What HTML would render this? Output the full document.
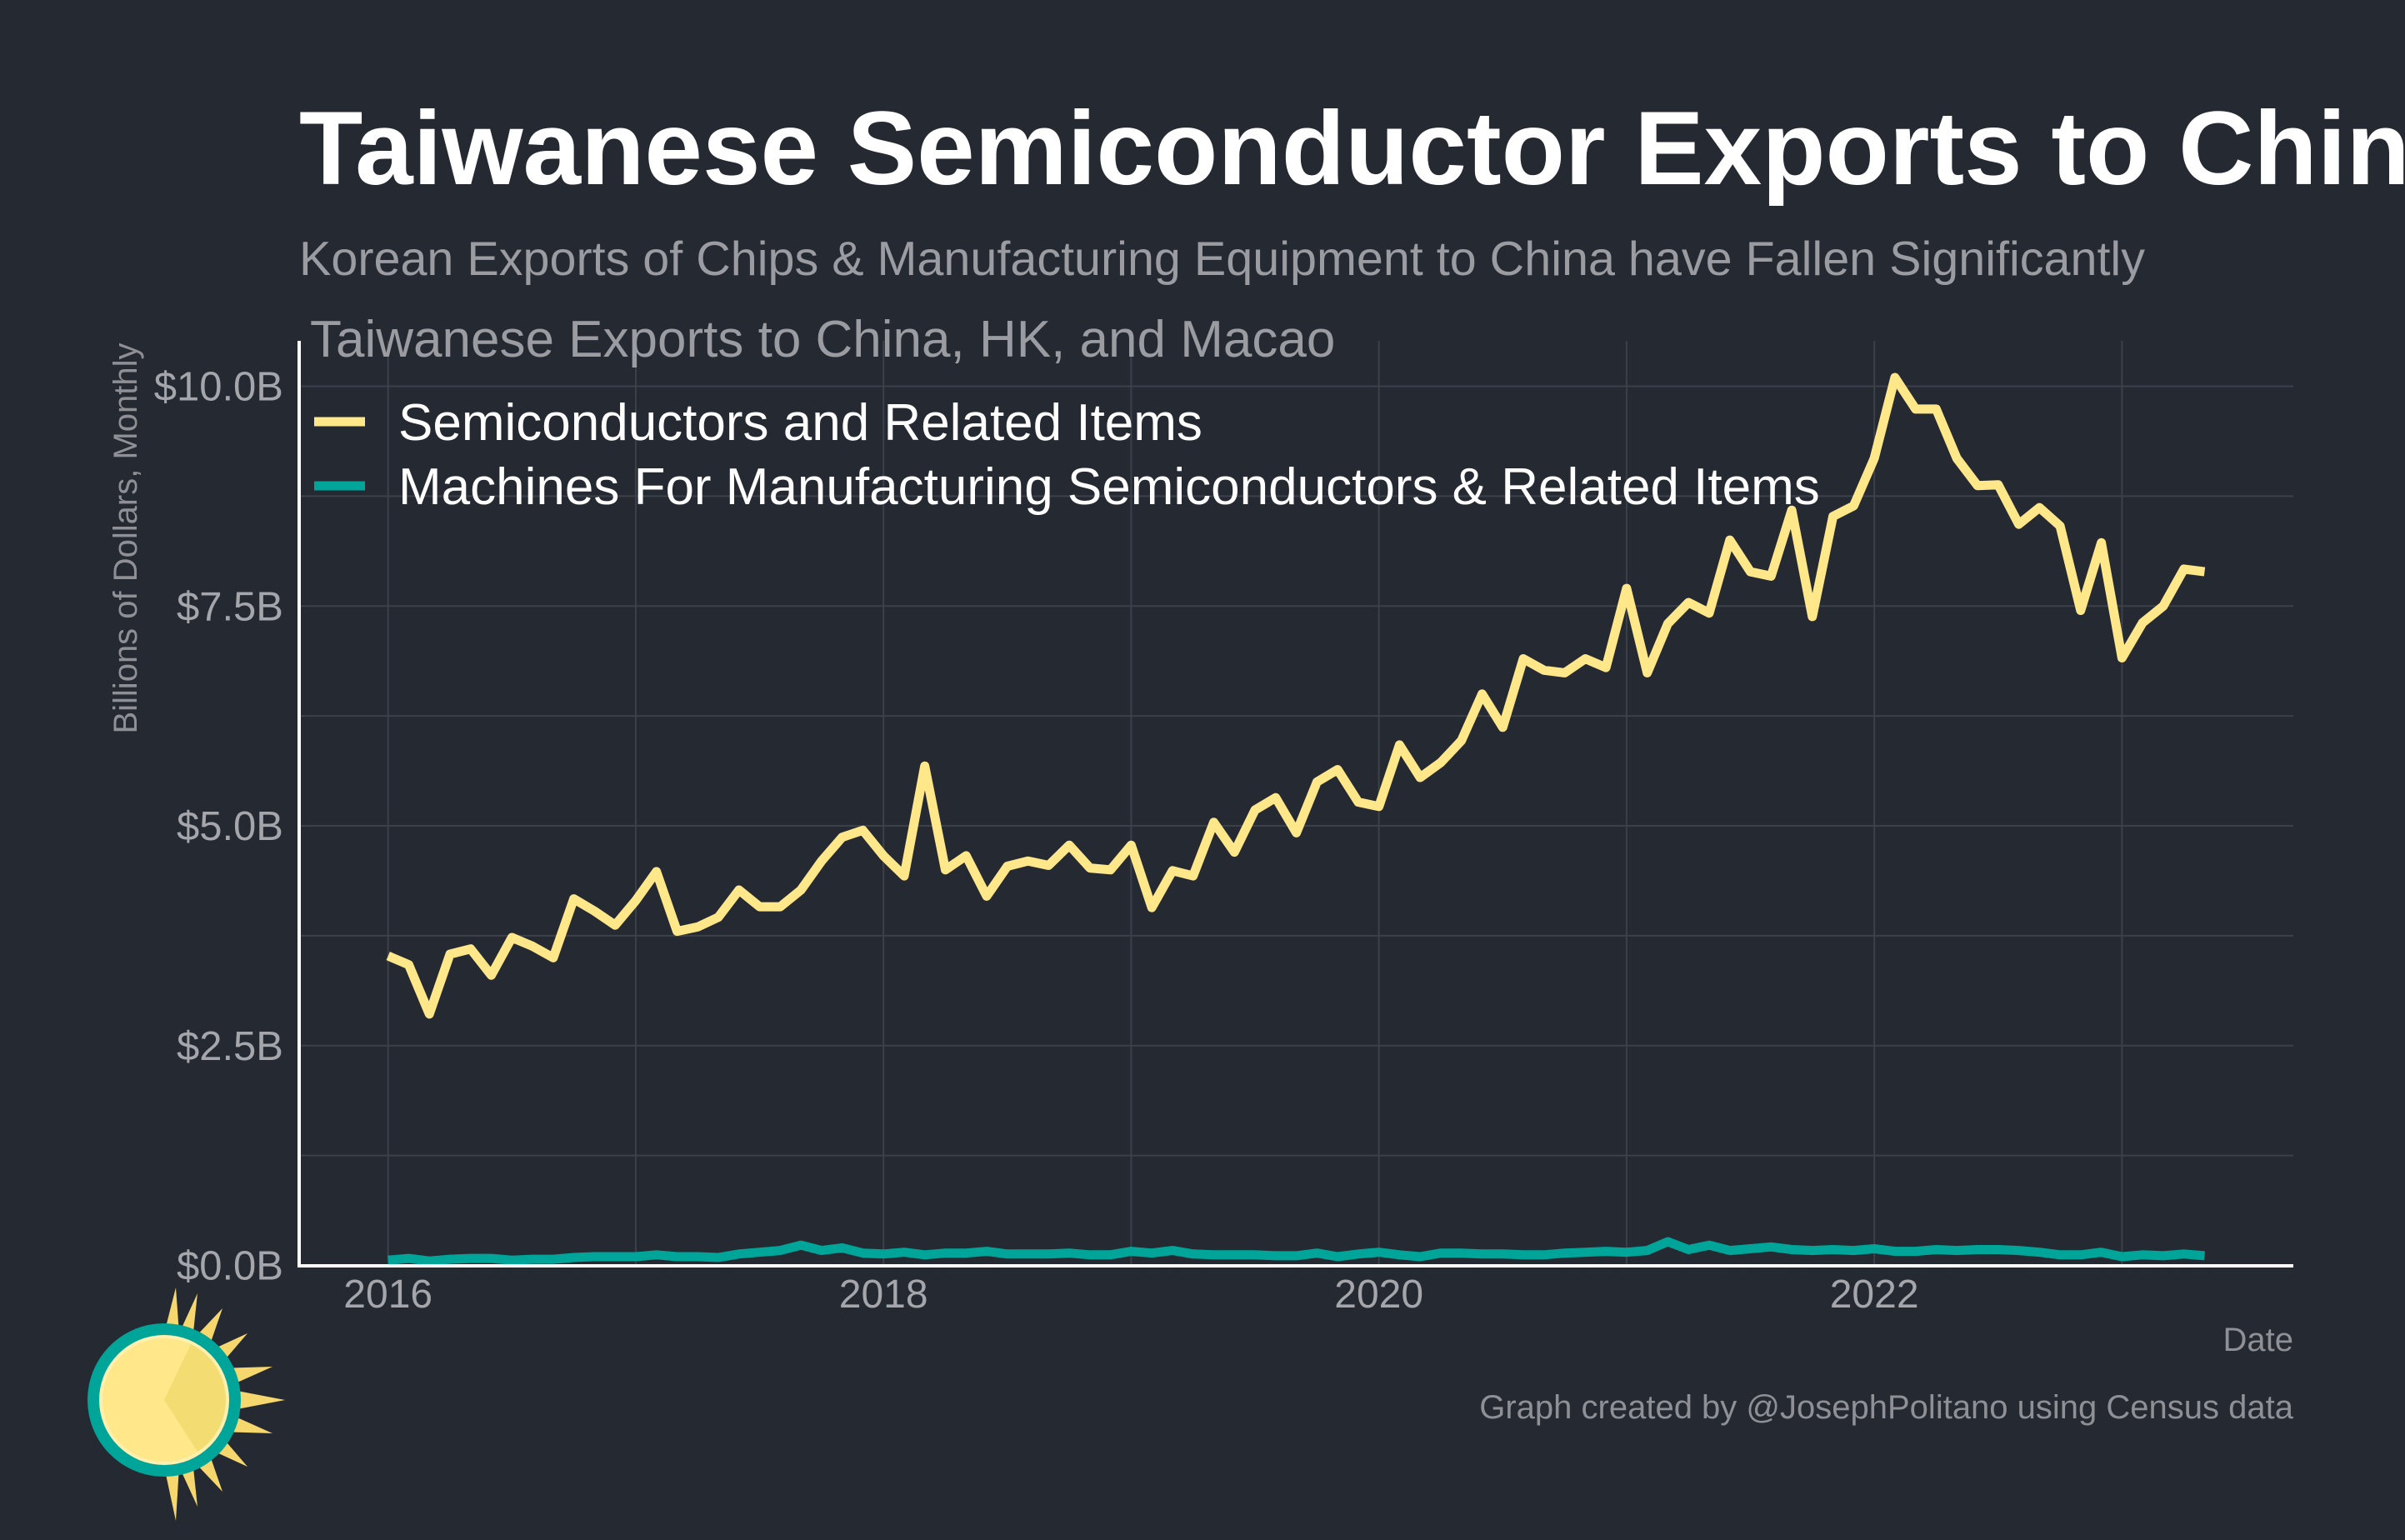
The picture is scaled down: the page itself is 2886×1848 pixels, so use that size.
<!DOCTYPE html>
<html><head><meta charset="utf-8">
<style>
html,body{margin:0;padding:0;background:#252932;}
body{width:2886px;height:1843px;overflow:hidden;font-family:"Liberation Sans",Arial,sans-serif;}
</style></head>
<body>
<svg id="chart" width="2886" height="1843" viewBox="0 0 2886 1843" xmlns="http://www.w3.org/2000/svg">
<rect width="2886" height="1843" fill="#252932"/>
<text x="359" y="221" fill="#ffffff" font-size="125" font-weight="bold" font-family="Liberation Sans, sans-serif">Taiwanese Semiconductor Exports to China</text>
<text x="359" y="330" fill="#9a9ca2" font-size="57.5" font-family="Liberation Sans, sans-serif">Korean Exports of Chips &amp; Manufacturing Equipment to China have Fallen Significantly</text>
<g id="grid"></g>
<g id="lines"></g>
<line x1="359" y1="409" x2="359" y2="1520" stroke="#ffffff" stroke-width="4"/>
<line x1="357" y1="1519" x2="2752" y2="1519" stroke="#ffffff" stroke-width="4"/>
<text x="372" y="428" fill="#9a9ca2" font-size="62" font-family="Liberation Sans, sans-serif">Taiwanese Exports to China, HK, and Macao</text>
<g>
<line x1="377" y1="506" x2="438" y2="506" stroke="#ffe78a" stroke-width="11"/>
<text x="478" y="528" fill="#ffffff" font-size="62" font-family="Liberation Sans, sans-serif">Semiconductors and Related Items</text>
<line x1="377" y1="583" x2="438" y2="583" stroke="#00a59a" stroke-width="11"/>
<text x="478" y="605" fill="#ffffff" font-size="62" font-family="Liberation Sans, sans-serif">Machines For Manufacturing Semiconductors &amp; Related Items</text>
</g>
<text transform="translate(164,646) rotate(-90)" text-anchor="middle" fill="#8e9096" font-size="40" font-family="Liberation Sans, sans-serif">Billions of Dollars, Monthly</text>
<text x="2752" y="1621" text-anchor="end" fill="#8e9096" font-size="40" font-family="Liberation Sans, sans-serif">Date</text>
<text x="2752" y="1702" text-anchor="end" fill="#8e9096" font-size="40" font-family="Liberation Sans, sans-serif">Graph created by @JosephPolitano using Census data</text>
<g transform="translate(197,1680)">
<polygon fill="#f5d76e" points="0,-80 14,-135 18,-80 40,-128 34,-72 70,-110 52,-58 100,-80 64,-38 130,-40 72,-14 145,0 72,14 130,40 64,38 100,80 52,58 70,110 34,72 40,128 18,80 14,145 0,80"/>
<circle r="92" fill="#00a59a"/>
<circle r="78" fill="#fff0b0"/>
<circle r="74" fill="#ffe78a"/>
<path d="M0,0 L32,-67 A74,74 0 0 1 40,62 Z" fill="#f3dc72"/>
</g>
</svg>
<script>
const dates0 = [2016, 0];
const semis = [3.52,3.42,2.86,3.54,3.6,3.3,3.73,3.63,3.5,4.17,4.03,3.87,
4.15,4.48,3.8,3.85,3.96,4.27,4.08,4.08,4.27,4.6,4.87,4.95,
4.66,4.43,5.68,4.5,4.66,4.2,4.54,4.6,4.55,4.78,4.52,4.5,
4.78,4.07,4.49,4.43,5.04,4.7,5.18,5.32,4.92,5.5,5.64,5.27,
5.22,5.92,5.55,5.72,5.97,6.5,6.12,6.9,6.77,6.74,6.9,6.8,
7.7,6.74,7.3,7.54,7.42,8.25,7.89,7.84,8.59,7.38,8.52,8.64,
9.18,10.1,9.74,9.74,9.18,8.87,8.88,8.43,8.62,8.41,7.45,8.22,
6.91,7.31,7.5,7.92,7.89];
const machines = [0.06,0.08,0.05,0.07,0.08,0.08,0.06,0.07,0.07,0.09,0.1,0.1,
0.1,0.12,0.1,0.1,0.09,0.13,0.15,0.17,0.23,0.17,0.2,0.14,
0.13,0.15,0.12,0.14,0.14,0.16,0.13,0.13,0.13,0.14,0.12,0.12,
0.16,0.14,0.17,0.13,0.12,0.12,0.12,0.11,0.11,0.14,0.1,0.13,
0.15,0.12,0.1,0.14,0.14,0.13,0.13,0.12,0.12,0.14,0.15,0.16,
0.15,0.17,0.27,0.18,0.23,0.17,0.19,0.21,0.18,0.17,0.18,0.17,
0.19,0.16,0.16,0.18,0.17,0.18,0.18,0.17,0.15,0.12,0.12,0.15,
0.1,0.12,0.11,0.13,0.11];
const yTicks = [0,2.5,5,7.5,10];
const yTickLabels = ["$0.0B","$2.5B","$5.0B","$7.5B","$10.0B"];
const yGrid = [1.25,3.75,6.25,8.75];
const xYears = [2016,2017,2018,2019,2020,2021,2022,2023];
const xTickYears = [2016,2018,2020,2022];

const NS = "http://www.w3.org/2000/svg";
const L = 359, R = 2752, T = 409, B = 1519;
function xs(monthIndex){ return 465.7 + monthIndex * 24.77; }
function xYear(y){ return xs((y - dates0[0]) * 12); }
function ys(v){ return 1518.5 - v * 105.5; }
function mk(tag, attrs, parent){
  const e = document.createElementNS(NS, tag);
  for (const k in attrs) e.setAttribute(k, attrs[k]);
  parent.appendChild(e); return e;
}
const grid = document.getElementById('grid');
const svg = document.getElementById('chart');
yTicks.concat(yGrid).forEach(v => {
  const l = mk('line', {x1:L, x2:R, y1:ys(v), y2:ys(v), stroke:'#3c4049', 'stroke-width':2}, grid);
  
  
});
xYears.forEach(yr => {
  const l = mk('line', {x1:xYear(yr), x2:xYear(yr), y1:T, y2:B, stroke:'#3c4049', 'stroke-width':2}, grid);
  
  
});
yTicks.forEach((v, i) => {
  const t = mk('text', {x:340, y:ys(v)+17, 'text-anchor':'end', fill:'#a4a6ab', 'font-size':49, 'font-family':'Liberation Sans, sans-serif'}, svg);
  t.textContent = yTickLabels[i];
  
  
});
xTickYears.forEach(yr => {
  const t = mk('text', {x:xYear(yr), y:1569, 'text-anchor':'middle', fill:'#a4a6ab', 'font-size':48, 'font-family':'Liberation Sans, sans-serif'}, svg);
  t.textContent = String(yr);
  
  
});
const lines = document.getElementById('lines');
function drawSeries(arr, color, name){
  const pts = arr.map((v, i) => xs(i).toFixed(1) + ',' + ys(v).toFixed(1)).join(' ');
  const p = mk('polyline', {points:pts, fill:'none', stroke:color, 'stroke-width':11, 'stroke-linejoin':'round'}, lines);
  
  
}
drawSeries(machines, '#00a59a', 'machines-line');
drawSeries(semis, '#ffe78a', 'semiconductors-line');
</script>
</body></html>
